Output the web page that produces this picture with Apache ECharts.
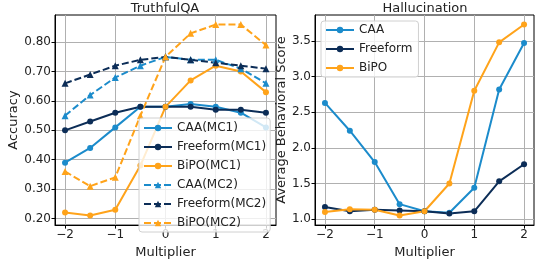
<!DOCTYPE html>
<html>
<head>
<meta charset="utf-8">
<script src="https://cdn.jsdelivr.net/npm/echarts@6/dist/echarts.min.js"></script>
<style>
  html, body { margin: 0; padding: 0; background: #fff; }
  #chart { width: 535px; height: 264px; }
</style>
</head>
<body>
<div id="chart"></div>
<script>
// multipliers shared by both panels
var multipliers = [-2, -1.5, -1, -0.5, 0, 0.5, 1, 1.5, 2];

// TruthfulQA accuracy
var caaMC1      = [0.39, 0.44, 0.51, 0.58, 0.58, 0.59, 0.58, 0.56, 0.51];
var freeformMC1 = [0.50, 0.53, 0.56, 0.58, 0.58, 0.58, 0.57, 0.57, 0.56];
var bipoMC1     = [0.22, 0.21, 0.23, 0.38, 0.58, 0.67, 0.72, 0.70, 0.63];
var caaMC2      = [0.55, 0.62, 0.68, 0.72, 0.75, 0.74, 0.74, 0.71, 0.66];
var freeformMC2 = [0.66, 0.69, 0.72, 0.74, 0.75, 0.74, 0.73, 0.72, 0.71];
var bipoMC2     = [0.36, 0.31, 0.34, 0.55, 0.75, 0.83, 0.86, 0.86, 0.79];

// Hallucination average behavioral score
var caaHal      = [2.63, 2.24, 1.80, 1.21, 1.11, 1.09, 1.44, 2.82, 3.47];
var freeformHal = [1.17, 1.11, 1.13, 1.12, 1.11, 1.08, 1.11, 1.53, 1.77];
var bipoHal     = [1.10, 1.14, 1.13, 1.05, 1.11, 1.50, 2.80, 3.48, 3.73];

// tick labels
var xTicks = [-2, -1, 0, 1, 2];
var accTicks = [0.2, 0.3, 0.4, 0.5, 0.6, 0.7, 0.8];
var halTicks = [1.0, 1.5, 2.0, 2.5, 3.0, 3.5];

var BLUE = '#1b8bcb', NAVY = '#0c2d57', ORANGE = '#ffa31a';
var FONT = 'DejaVu Sans';

function pairs(vals) {
    var res = [];
    for (var i = 0; i < multipliers.length; i++) res.push([multipliers[i], vals[i]]);
    return res;
}

function mkSeries(name, vals, color, dashed, tri, idx) {
    return {
        name: name,
        type: 'line',
        xAxisIndex: idx,
        yAxisIndex: idx,
        data: pairs(vals),
        symbol: tri ? 'triangle' : 'circle',
        symbolSize: tri ? 7 : 6,
        showAllSymbol: true,
        lineStyle: { color: color, width: 2, type: dashed ? [7, 3] : 'solid' },
        itemStyle: { color: color },
        animation: false
    };
}

function xAxisOf(idx) {
    return {
        type: 'value', gridIndex: idx, min: -2.2, max: 2.2,
        name: 'Multiplier', nameLocation: 'middle', nameGap: 13,
        nameTextStyle: { fontFamily: FONT, fontSize: 13, color: '#222' },
        axisLine: { show: true, onZero: false, lineStyle: { color: '#000', width: 1 } },
        axisTick: { show: true, length: 3.5, customValues: xTicks, lineStyle: { color: '#000' } },
        axisLabel: {
            customValues: xTicks, fontFamily: FONT, fontSize: 12, color: '#222', margin: 4,
            formatter: function (v) { return v < 0 ? '\u2212' + Math.abs(v) : String(v); }
        },
        splitLine: { show: true, lineStyle: { color: '#b0b0b0', width: 1 } }
    };
}

function yAxisOf(idx, name, ticks, min, max, dec, gap) {
    return {
        type: 'value', gridIndex: idx, min: min, max: max,
        name: name, nameLocation: 'middle', nameGap: gap,
        nameTextStyle: { fontFamily: FONT, fontSize: 13, color: '#222' },
        axisLine: { show: true, onZero: false, lineStyle: { color: '#000', width: 1 } },
        axisTick: { show: true, length: 3.5, customValues: ticks, lineStyle: { color: '#000' } },
        axisLabel: {
            customValues: ticks, fontFamily: FONT, fontSize: 12, color: '#222', margin: 4,
            formatter: function (v) { return v.toFixed(dec); }
        },
        splitLine: { show: true, lineStyle: { color: '#b0b0b0', width: 1 } }
    };
}

var legendBox = {
    orient: 'vertical',
    backgroundColor: 'rgba(255,255,255,0.8)',
    borderColor: '#d0d0d0',
    borderWidth: 1,
    borderRadius: 3,
    itemWidth: 28,
    itemHeight: 8,
    textStyle: { fontFamily: FONT, fontSize: 12, color: '#222' }
};

var myChart = echarts.init(document.getElementById('chart'), null, { renderer: 'canvas' });

myChart.setOption({
    animation: false,
    backgroundColor: '#fff',
    title: [
        { text: 'TruthfulQA', left: 165, top: 2, padding: 0, textAlign: 'center',
          textStyle: { fontFamily: FONT, fontSize: 13, fontWeight: 'normal', color: '#222' } },
        { text: 'Hallucination', left: 425, top: 2, padding: 0, textAlign: 'center',
          textStyle: { fontFamily: FONT, fontSize: 13, fontWeight: 'normal', color: '#222' } }
    ],
    grid: [
        { left: 55, right: 259, top: 15, bottom: 32, show: true, borderColor: '#000', borderWidth: 1 },
        { left: 315, right: 1, top: 15, bottom: 32, show: true, borderColor: '#000', borderWidth: 1 }
    ],
    legend: [
        Object.assign({}, legendBox, {
            left: 139, top: 118, itemGap: 7, padding: [4, 4, 3, 4],
            data: ['CAA(MC1)', 'Freeform(MC1)', 'BiPO(MC1)', 'CAA(MC2)', 'Freeform(MC2)', 'BiPO(MC2)']
        }),
        Object.assign({}, legendBox, {
            left: 321, top: 21, itemGap: 7, padding: [3, 6, 3, 4],
            data: ['CAA', 'Freeform', 'BiPO']
        })
    ],
    xAxis: [xAxisOf(0), xAxisOf(1)],
    yAxis: [
        yAxisOf(0, 'Accuracy', accTicks, 0.1775, 0.8925, 2, 35),
        yAxisOf(1, 'Average Behavioral Score', halTicks, 0.916, 3.864, 1, 25)
    ],
    series: [
        mkSeries('CAA(MC1)', caaMC1, BLUE, false, false, 0),
        mkSeries('Freeform(MC1)', freeformMC1, NAVY, false, false, 0),
        mkSeries('BiPO(MC1)', bipoMC1, ORANGE, false, false, 0),
        mkSeries('CAA(MC2)', caaMC2, BLUE, true, true, 0),
        mkSeries('Freeform(MC2)', freeformMC2, NAVY, true, true, 0),
        mkSeries('BiPO(MC2)', bipoMC2, ORANGE, true, true, 0),
        mkSeries('CAA', caaHal, BLUE, false, false, 1),
        mkSeries('Freeform', freeformHal, NAVY, false, false, 1),
        mkSeries('BiPO', bipoHal, ORANGE, false, false, 1)
    ]
});
</script>
</body>
</html>
